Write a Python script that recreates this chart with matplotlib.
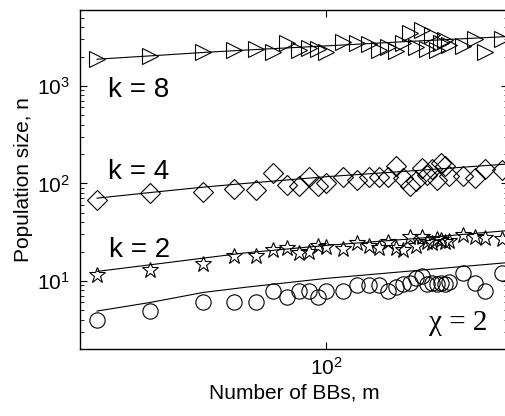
import matplotlib.pyplot as plt

plt.rcParams['font.family'] = ['Liberation Sans', 'DejaVu Sans']

# Number of building blocks, m
m = [5, 10, 20, 30, 40, 50, 60, 70, 80, 90, 100, 125, 150, 175, 200, 225, 250,
     275, 300, 325, 350, 375, 400, 425, 450, 475, 500, 600, 700, 800, 1000]

# Experimental population sizes
n_k1 = [4.0, 4.95, 6.0, 6.0, 6.0, 7.8, 6.9, 7.9, 7.8, 6.9, 7.9, 7.9, 9.1, 9.1,
        9.1, 7.9, 8.7, 9.3, 9.6, 10.7, 11.1, 9.3, 9.6, 9.3, 9.6, 9.3, 9.8,
        12.0, 9.6, 7.8, 12.0]
n_k2 = [11.5, 13.0, 14.9, 18.0, 18.0, 20.5, 21.6, 19.2, 19.9, 22.9, 22.2, 21.2,
        24.4, 22.9, 21.6, 25.3, 21.6, 20.7, 28.0, 22.6, 28.0, 25.0, 24.4, 26.7,
        26.0, 25.3, 25.5, 29.7, 28.5, 27.5, 26.7]
n_k4 = [67.8, 79.2, 82.4, 87, 85.7, 127, 96.6, 94.5, 117, 93, 100, 117, 107,
        115, 115, 117, 149, 113, 93, 105, 143, 122, 140, 109, 163, 149, 120,
        119, 113, 140, 137]
n_k8 = [1878, 2030, 2200, 2337, 2377, 2200, 2780, 2337, 2430, 2377, 2250, 2850,
        2780, 2700, 2337, 2530, 2300, 2780, 3475, 2530, 3700, 2377, 3335, 2337,
        2750, 2950, 2600, 2570, 3010, 2200, 3010]

# Model predictions
m_fit = [5, 10, 20, 35, 100, 300, 1080]
fit_k1 = [4.9, 6.0, 7.6, 8.6, 10.6, 12.6, 15.4]
fit_k2 = [12.5, 14.6, 17.1, 19.4, 23.1, 26.9, 32.8]
fit_k4 = [70.5, 80.5, 91.4, 100, 117, 134, 158]
fit_k8 = [1878, 2030, 2200, 2330, 2570, 2860, 3210]

fig = plt.figure(figsize=(5.06, 4.16), dpi=100)
ax = fig.add_axes([80 / 506, 67 / 416, 428 / 506, 339 / 416])

mk = dict(linestyle='none', markerfacecolor='none', markeredgecolor='k',
          markeredgewidth=0.8)
ax.plot(m, n_k1, marker='o', markersize=11, **mk)
ax.plot(m, n_k2, marker='*', markersize=12, **mk)
ax.plot(m, n_k4, marker='D', markersize=10.5, **mk)
ax.plot(m, n_k8, marker='>', markersize=12, **mk)

for f in [fit_k1, fit_k2, fit_k4, fit_k8]:
    ax.plot(m_fit, f, color='k', linewidth=0.8)

ax.set_xscale('log')
ax.set_yscale('log')
ax.set_xlim(4, 1080)
ax.set_ylim(2, 6000)
ax.set_xticks([100])
ax.xaxis.set_minor_locator(plt.NullLocator())

ax.tick_params(which='both', direction='in', top=True, right=True, labelsize=15)
ax.tick_params(which='major', length=5, width=0.8)
ax.tick_params(which='minor', length=3, width=0.6)
ax.tick_params(axis='y', pad=7)
ax.tick_params(axis='x', pad=6)
for s in ax.spines.values():
    s.set_linewidth(1.0)

ax.set_xlabel('Number of BBs, m', fontsize=15, labelpad=3)
ax.set_ylabel('Population size, n', fontsize=15, labelpad=3)

ax.text(0.065, 0.743, 'k = 8', transform=ax.transAxes, fontsize=20, va='baseline')
ax.text(0.065, 0.501, 'k = 4', transform=ax.transAxes, fontsize=20, va='baseline')
ax.text(0.067, 0.271, 'k = 2', transform=ax.transAxes, fontsize=20, va='baseline')
ax.text(0.815, 0.056, '\u03c7 = 2', transform=ax.transAxes, fontsize=21,
        va='baseline', family=['Liberation Serif', 'DejaVu Serif'])

fig.savefig('out.png', dpi=100)
